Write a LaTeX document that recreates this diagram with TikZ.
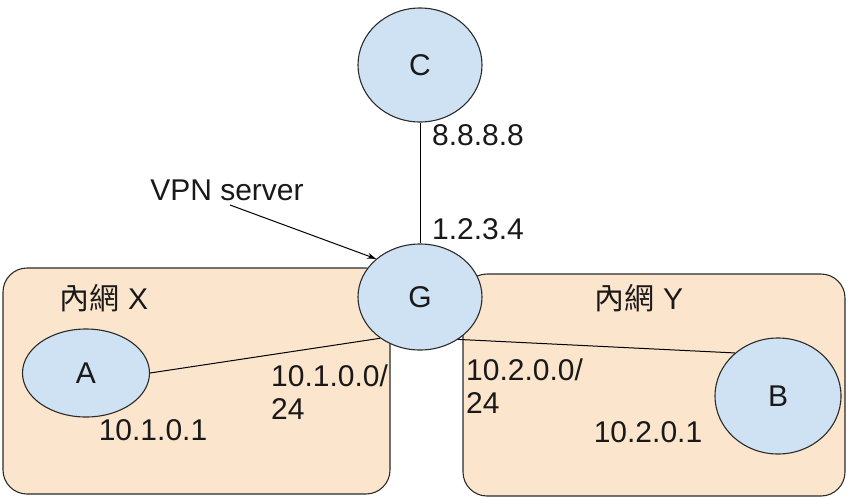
\documentclass[tikz,border=0pt]{standalone}
\usepackage{fontspec}
\setmainfont{Liberation Sans}
\newfontfamily\cjk{Noto Sans CJK TC}
\usetikzlibrary{shapes.geometric,arrows.meta}
\definecolor{nodeblue}{HTML}{CFE2F3}
\definecolor{netorange}{HTML}{FCE5CD}
\definecolor{strokegray}{HTML}{2B2B2B}
\begin{document}
\begin{tikzpicture}[x=1pt,y=-1pt,
  every node/.style={font=\fontsize{30}{33}\selectfont, text=black!90},
  host/.style={ellipse, draw=strokegray, line width=1.1pt, fill=nodeblue, inner sep=0pt},
  netbox/.style={draw=strokegray, line width=1.1pt, fill=netorange, rounded corners=24pt},
  link/.style={draw=black, line width=1pt},
  lbl/.style={inner sep=0pt}
]
\useasboundingbox (0,0) rectangle (851,498);
% networks
\draw[netbox] (3,268) rectangle (390,494);
\draw[netbox] (463,274) rectangle (845,496);
% hosts
\node[host, minimum width=124pt, minimum height=114pt] (C) at (420,65) {C};
\node[host, minimum width=124pt, minimum height=106pt] (G) at (420,297) {G};
\node[host, minimum width=127pt, minimum height=88pt] (A) at (86,373) {A};
\node[host, minimum width=126pt, minimum height=116pt] (B) at (778,396) {B};
% labels
\node[lbl] (netx) at (104,298) {{\cjk 內網} X};
\node[lbl] (nety) at (639,298) {{\cjk 內網} Y};
\node[lbl] (ipc) at (478,135) {8.8.8.8};
\node[lbl] (ipg) at (478,229) {1.2.3.4};
\node[lbl, align=left, anchor=west] (subx) at (271,392) {10.1.0.0/\\24};
\node[lbl, align=left, anchor=west] (suby) at (466,386) {10.2.0.0/\\24};
\node[lbl] (ipa) at (153,430) {10.1.0.1};
\node[lbl] (ipb) at (648,432) {10.2.0.1};
\node[lbl] (vpn) at (227,190) {VPN server};
\coordinate (vpnfoot) at (230,205);
% connectors
\draw[link] (C) -- (G);
\draw[link] (A.east) -- (G.226);
\draw[link] (G.-48) -- (B.135);
\draw[link, -{Stealth[length=9pt,width=6pt]}] (vpnfoot) -- (G.139);
\end{tikzpicture}
\end{document}
